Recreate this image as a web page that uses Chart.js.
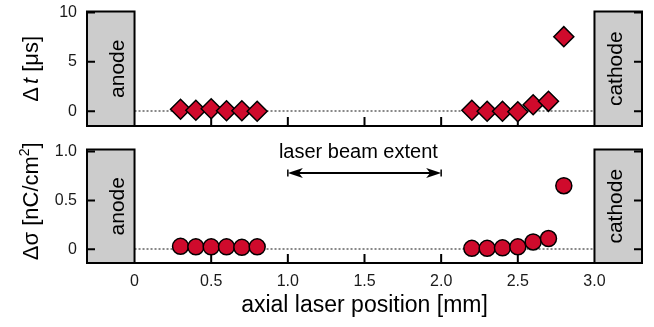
<!DOCTYPE html>
<html>
<head>
<meta charset="utf-8">
<script src="https://cdn.jsdelivr.net/npm/chart.js@4.4.1/dist/chart.umd.min.js"></script>
<style>
  html, body { margin: 0; padding: 0; background: #fff; }
  #wrap { position: relative; width: 654px; height: 327px; }
  canvas { position: absolute; left: 0; }
  #top { top: 0; }
  #bottom { top: 140px; }
</style>
</head>
<body>
<div id="wrap">
  <canvas id="top" width="654" height="140"></canvas>
  <canvas id="bottom" width="654" height="187"></canvas>
</div>
<script>
// axial laser positions (mm)
const positions = [0.3, 0.4, 0.5, 0.6, 0.7, 0.8, 2.2, 2.3, 2.4, 2.5, 2.6, 2.7, 2.8];
// delay shift Δt (µs)
const deltaT = [0.2, 0.1, 0.25, 0.05, 0.05, 0, 0.1, 0, 0, -0.05, 0.65, 1.0, 7.55];
// change in charge density Δσ (nC/cm²)
const deltaSigma = [0.03, 0.025, 0.025, 0.025, 0.02, 0.025, 0.01, 0.01, 0.015, 0.025, 0.075, 0.11, 0.65];

const xTicks = [0, 0.5, 1.0, 1.5, 2.0, 2.5, 3.0];
const xTickLabels = ['0', '0.5', '1.0', '1.5', '2.0', '2.5', '3.0'];
const tTicks = [0, 5, 10];
const tTickLabels = ['0', '5', '10'];
const sigmaTicks = [0, 0.5, 1.0];
const sigmaTickLabels = ['0', '0.5', '1.0'];

// electrodes and laser beam (mm)
const anode = [-0.31, 0];
const cathode = [3.0, 3.31];
const beamExtent = [1.0, 2.0];

const FONT = '"Liberation Sans", Arial, sans-serif';
const RED = '#cf0a2c';

// electrode boxes, zero line, inward ticks and the bottom axis line
const framePlugin = {
  id: 'frame',
  beforeDatasetsDraw(chart) {
    const { ctx, chartArea: a, scales: { x, y } } = chart;
    ctx.save();

    const y0 = Math.round(y.getPixelForValue(0));
    ctx.strokeStyle = '#888';
    ctx.lineWidth = 2;
    ctx.setLineDash([2, 2]);
    ctx.beginPath();
    ctx.moveTo(x.getPixelForValue(anode[1]), y0);
    ctx.lineTo(x.getPixelForValue(cathode[0]), y0);
    ctx.stroke();
    ctx.setLineDash([]);

    ctx.strokeStyle = '#000';
    ctx.lineWidth = 2;
    [anode, cathode].forEach(r => {
      const l = x.getPixelForValue(r[0]);
      const rr = x.getPixelForValue(r[1]);
      ctx.fillStyle = '#cccccc';
      ctx.fillRect(l, a.top, rr - l, a.bottom - a.top);
      ctx.strokeRect(l, a.top, rr - l, a.bottom - a.top);
    });

    ctx.fillStyle = '#000';
    ctx.font = '21px ' + FONT;
    ctx.textAlign = 'center';
    ctx.textBaseline = 'alphabetic';
    const midY = (a.top + a.bottom) / 2;
    [['anode', x.getPixelForValue(anode[1]) - 10.5], ['cathode', x.getPixelForValue(cathode[0]) + 28]].forEach(([txt, bx]) => {
      ctx.save();
      ctx.translate(bx, midY);
      ctx.rotate(-Math.PI / 2);
      ctx.fillText(txt, 0, 0);
      ctx.restore();
    });

    ctx.beginPath();
    y.ticks.forEach(t => {
      const py = y.getPixelForValue(t.value);
      ctx.moveTo(a.left, py);
      ctx.lineTo(a.left + 8, py);
      ctx.moveTo(a.right, py);
      ctx.lineTo(a.right - 8, py);
    });
    xTicks.forEach(v => {
      if (v <= anode[1] || v >= cathode[0]) return;
      const px = x.getPixelForValue(v);
      ctx.moveTo(px, a.bottom);
      ctx.lineTo(px, a.bottom - 9);
    });
    ctx.moveTo(a.left, a.bottom);
    ctx.lineTo(a.right, a.bottom);
    ctx.stroke();
    ctx.restore();
  }
};

// rotated y title made of runs with their own font and baseline shift
function drawYTitle(ctx, runs, cx, cy) {
  ctx.save();
  ctx.translate(cx, cy);
  ctx.rotate(-Math.PI / 2);
  ctx.fillStyle = '#000';
  ctx.textBaseline = 'alphabetic';
  ctx.textAlign = 'left';
  let total = 0;
  runs.forEach(r => { ctx.font = r.font; total += ctx.measureText(r.text).width + (r.gap || 0); });
  let pos = -total / 2;
  runs.forEach(r => {
    ctx.font = r.font;
    ctx.fillText(r.text, pos, r.dy || 0);
    pos += ctx.measureText(r.text).width + (r.gap || 0);
  });
  ctx.restore();
}

function stealth(ctx, tipX, y, dir) {
  ctx.beginPath();
  ctx.moveTo(tipX, y);
  ctx.lineTo(tipX - dir * 15, y - 5);
  ctx.lineTo(tipX - dir * 11, y);
  ctx.lineTo(tipX - dir * 15, y + 5);
  ctx.closePath();
  ctx.fill();
}

function makeScales(yMin, yMax, ticks, labels, showX) {
  return {
    x: {
      type: 'linear',
      min: anode[0],
      max: cathode[1],
      display: showX,
      afterBuildTicks: s => { s.ticks = xTicks.map(v => ({ value: v })); },
      afterFit: s => {
        if (showX) s.height = 64;
        s.paddingLeft = 0;
        s.paddingRight = 0;
      },
      grid: { display: false, drawTicks: false },
      border: { display: false },
      ticks: {
        autoSkip: false, maxRotation: 0, padding: 9, color: '#1a1a1a',
        font: { family: FONT, size: 16 },
        callback: (v, i) => xTickLabels[i]
      },
      title: {
        display: showX, text: 'axial laser position [mm]', color: '#000',
        font: { family: FONT, size: 23 }, padding: { top: 0, bottom: 8 }
      }
    },
    y: {
      min: yMin,
      max: yMax,
      afterBuildTicks: s => { s.ticks = ticks.map(v => ({ value: v })); },
      afterFit: s => {
        s.width = 87;
        s.paddingTop = 0;
        s.paddingBottom = 0;
      },
      grid: { display: false, drawTicks: false },
      border: { display: false },
      ticks: {
        padding: 10, color: '#1a1a1a',
        font: { family: FONT, size: 16 },
        callback: (v, i) => labels[i]
      }
    }
  };
}

const common = {
  responsive: false,
  animation: false,
  events: [],
  plugins: { legend: { display: false }, tooltip: { enabled: false } }
};

new Chart(document.getElementById('top'), {
  type: 'scatter',
  data: {
    datasets: [{
      data: positions.map((p, i) => ({ x: p, y: deltaT[i] })),
      pointStyle: 'rectRot',
      pointRadius: 10,
      backgroundColor: RED,
      borderColor: '#000',
      borderWidth: 1.5
    }]
  },
  options: Object.assign({}, common, {
    layout: { padding: { top: 11, right: 12, bottom: 14, left: 0 } },
    scales: makeScales(-1.5, 10.1, tTicks, tTickLabels, false)
  }),
  plugins: [framePlugin, {
    id: 'tTitle',
    afterDraw(chart) {
      const a = chart.chartArea;
      drawYTitle(chart.ctx, [
        { text: 'Δ', font: '22px ' + FONT, gap: 3 },
        { text: 't', font: 'italic 22px ' + FONT },
        { text: ' [μs]', font: '22px ' + FONT }
      ], 38, (a.top + a.bottom) / 2);
    }
  }]
});

new Chart(document.getElementById('bottom'), {
  type: 'scatter',
  data: {
    datasets: [{
      data: positions.map((p, i) => ({ x: p, y: deltaSigma[i] })),
      pointStyle: 'circle',
      pointRadius: 8,
      backgroundColor: RED,
      borderColor: '#000',
      borderWidth: 1.5
    }]
  },
  options: Object.assign({}, common, {
    layout: { padding: { top: 8, right: 12, bottom: 0, left: 0 } },
    scales: makeScales(-0.14, 1.02, sigmaTicks, sigmaTickLabels, true)
  }),
  plugins: [framePlugin, {
    id: 'sigmaTitle',
    afterDraw(chart) {
      const { ctx, chartArea: a, scales: { x, y } } = chart;
      drawYTitle(ctx, [
        { text: 'Δσ [nC/cm', font: '22px ' + FONT },
        { text: '2', font: '14px ' + FONT, dy: -9 },
        { text: ']', font: '22px ' + FONT }
      ], 38, (a.top + a.bottom) / 2 - 5);

      // laser beam extent marker
      const x1 = x.getPixelForValue(beamExtent[0]);
      const x2 = x.getPixelForValue(beamExtent[1]);
      const ay = y.getPixelForValue(0.78);
      ctx.save();
      ctx.strokeStyle = '#000';
      ctx.fillStyle = '#000';
      ctx.lineWidth = 2;
      ctx.beginPath();
      ctx.moveTo(x1 + 4, ay);
      ctx.lineTo(x2 - 4, ay);
      ctx.stroke();
      ctx.lineWidth = 1.5;
      ctx.beginPath();
      ctx.moveTo(x1, ay - 3.5);
      ctx.lineTo(x1, ay + 3.5);
      ctx.moveTo(x2, ay - 3.5);
      ctx.lineTo(x2, ay + 3.5);
      ctx.stroke();
      stealth(ctx, x1, ay, -1);
      stealth(ctx, x2, ay, 1);
      ctx.font = '20px ' + FONT;
      ctx.textAlign = 'center';
      ctx.textBaseline = 'alphabetic';
      ctx.fillText('laser beam extent', x.getPixelForValue(1.46), y.getPixelForValue(0.93));
      ctx.restore();
    }
  }]
});
</script>
</body>
</html>
